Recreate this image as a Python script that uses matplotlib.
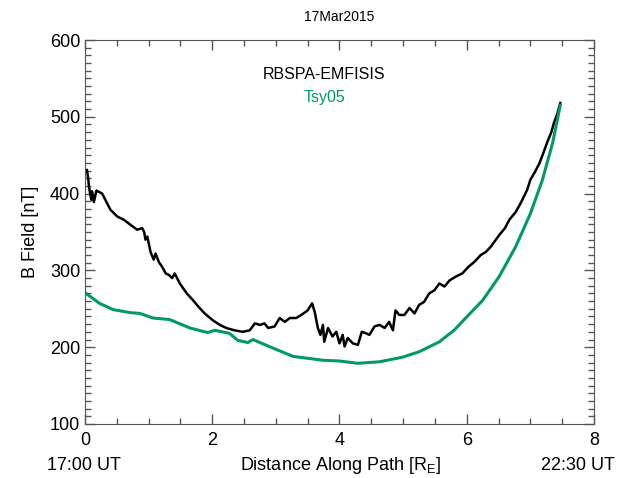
import matplotlib
matplotlib.use('Agg')
import matplotlib.pyplot as plt
from matplotlib.ticker import MultipleLocator

plt.rcParams['font.family'] = ['Liberation Sans', 'DejaVu Sans']

# measured field along the orbit (RBSP-A EMFISIS)
emfisis_dist = [0.0, 0.03, 0.05, 0.06, 0.08, 0.10, 0.11, 0.14, 0.18, 0.27, 0.35, 0.40,
                0.51, 0.61, 0.72, 0.82, 0.90, 0.93, 0.95, 0.98, 1.03, 1.08, 1.11, 1.16,
                1.21, 1.27, 1.32, 1.37, 1.41, 1.49, 1.60, 1.70, 1.78, 1.88, 2.01, 2.12,
                2.22, 2.35, 2.48, 2.59, 2.67, 2.75, 2.82, 2.88, 2.98, 3.06, 3.14, 3.22,
                3.32, 3.40, 3.50, 3.57, 3.61, 3.66, 3.70, 3.74, 3.76, 3.82, 3.89, 3.95,
                4.00, 4.05, 4.08, 4.13, 4.21, 4.29, 4.35, 4.42, 4.47, 4.55, 4.63, 4.71,
                4.78, 4.84, 4.88, 4.94, 5.02, 5.10, 5.18, 5.25, 5.33, 5.41, 5.49, 5.57,
                5.65, 5.73, 5.83, 5.93, 6.03, 6.12, 6.22, 6.30, 6.38, 6.51, 6.60, 6.67,
                6.77, 6.85, 6.95, 7.00, 7.07, 7.14, 7.20, 7.27, 7.33, 7.37, 7.42, 7.47]
emfisis_b = [428, 431, 420, 411, 400, 392, 403, 389, 404, 400, 387, 379,
             370, 366, 359, 353, 355, 350, 340, 344, 324, 314, 322, 311,
             305, 296, 294, 290, 296, 283, 270, 261, 253, 244, 235, 229,
             225, 222, 220, 222, 231, 229, 231, 225, 227, 238, 233, 238,
             238, 242, 248, 257, 246, 225, 216, 229, 207, 225, 214, 220,
             205, 216, 201, 212, 205, 203, 220, 218, 216, 227, 229, 225,
             233, 222, 248, 242, 242, 251, 244, 255, 259, 270, 274, 283,
             279, 287, 292, 296, 305, 311, 320, 324, 331, 346, 355, 366,
             376, 388, 405, 418, 428, 439, 452, 468, 480, 492, 503, 518]

# Tsyganenko 2005 model field along the same path
tsy_dist = [0.0, 0.23, 0.44, 0.71, 0.86, 1.07, 1.33, 1.65, 1.93, 2.04, 2.27, 2.40,
            2.56, 2.64, 2.75, 2.95, 3.27, 3.74, 4.00, 4.29, 4.63, 4.99, 5.25, 5.57,
            5.80, 5.96, 6.25, 6.51, 6.77, 7.00, 7.19, 7.35, 7.47]
tsy_b = [271, 257, 249, 245, 244, 238, 236, 225, 219, 222, 218, 209,
         206, 210, 206, 199, 188, 183, 182, 179, 181, 187, 194, 207,
         222, 236, 261, 292, 331, 374, 418, 466, 515]

x_ticks = [0, 2, 4, 6, 8]
y_ticks = [100, 200, 300, 400, 500, 600]

fig = plt.figure(figsize=(6.19, 4.78), dpi=100)
ax = fig.add_axes([0.1373, 0.113, 0.8223, 0.8033])

ax.plot(emfisis_dist, emfisis_b, color='black', lw=1.8)
ax.plot(tsy_dist, tsy_b, color='#009B62', lw=2.2)

ax.set_xlim(0, 8)
ax.set_ylim(100, 600)
ax.set_xticks(x_ticks)
ax.set_yticks(y_ticks)
ax.xaxis.set_minor_locator(MultipleLocator(0.5))
ax.yaxis.set_minor_locator(MultipleLocator(10))
ax.tick_params(which='both', direction='in', top=True, right=True,
               color='#555555', labelsize=13)
ax.tick_params(which='major', length=7, width=1)
ax.tick_params(which='minor', length=4, width=1)
ax.tick_params(axis='x', which='major', pad=6)
for s in ax.spines.values():
    s.set_color('#555555')

ax.set_ylabel('B Field [nT]', fontsize=13, labelpad=8)
ax.set_title('17Mar2015', fontsize=10, pad=14)

ax.text(0.47, 0.91, 'RBSPA-EMFISIS', transform=ax.transAxes, ha='center',
        va='center', fontsize=11.5, color='black')
ax.text(0.47, 0.85, 'Tsy05', transform=ax.transAxes, ha='center',
        va='center', fontsize=11.5, color='#009B62')

# bottom row: start time, axis title, end time
row_y = 1 - 466 / 478
fig.text(84 / 619, row_y, '17:00 UT', ha='center', va='center', fontsize=13)
fig.text(340 / 619, row_y, 'Distance Along Path [R$_\\mathregular{E}$]',
         ha='center', va='center', fontsize=13)
fig.text(578 / 619, row_y, '22:30 UT', ha='center', va='center', fontsize=13)

fig.savefig('out.png', dpi=100)
